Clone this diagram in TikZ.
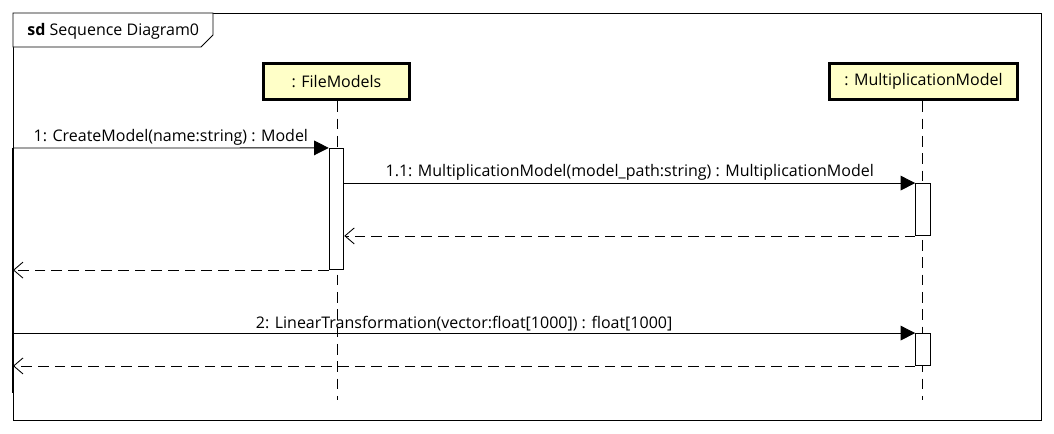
\documentclass[tikz,border=0pt]{standalone}
\usepackage{fontspec}
\setmainfont{Open Sans}
\usetikzlibrary{arrows.meta}
\definecolor{headfill}{RGB}{255,255,200}

\begin{document}
\begin{tikzpicture}[x=0.75pt,y=-0.75pt,line width=0.65pt,
	every node/.style={font=\fontsize{12}{14}\selectfont},
	head/.style={draw=black,fill=headfill,line width=2.2pt,minimum height=27.5pt,inner sep=0pt},
	act/.style={draw=black,fill=white,line width=0.65pt,minimum width=11pt,inner sep=0pt},
	lifeline/.style={black,line width=0.6pt,dash pattern=on 8pt off 5pt},
	call/.style={black,-{Triangle[length=11pt,width=11pt]}},
	reply/.style={black,dash pattern=on 8pt off 4.5pt,-{Straight Barb[length=7pt,width=12pt]}},
	lbl/.style={above,inner sep=1.5pt}]
				\useasboundingbox (0,0) rectangle (1054,433);
				% frame
				\draw [black] (13,13) rectangle (1041,420);
				\draw [black,fill=white] (13,13) -- (213,13) -- (213,35) -- (201,47) -- (13,47) -- cycle;
				\node [anchor=west,inner sep=0pt] (title) at (27,31) {\textbf{sd} Sequence Diagram0};
				% lifelines
				\node [head,minimum width=110pt] (fm) at (336.5,81.5) {: FileModels};
				\node [head,minimum width=141pt] (mm) at (923.5,81.5) {: MultiplicationModel};
				\coordinate (fmend) at (337,400);
				\coordinate (mmend) at (922,400);
				\draw [lifeline] (fm.south -| fmend) -- (fmend);
				\draw [lifeline] (mm.south -| mmend) -- (mmend);
				% caller
				\coordinate (top) at (13,148);
				\coordinate (bottom) at (13,393);
				\draw [black,line width=1.6pt] (top) -- (bottom);
				% activations
				\node [act,minimum height=91pt] (a1) at (336.5,209) {};
				\node [act,minimum height=39pt] (a2) at (923,209.5) {};
				\node [act,minimum height=24pt] (a3) at (923,349.5) {};
				% messages
				\draw [call] (top) -- node [lbl] (m1) {1: CreateModel(name:string) : Model} (a1.north west);
				\draw [call] (a1.east |- a2.north) -- node [lbl] (m11) {1.1: MultiplicationModel(model\_path:string) : MultiplicationModel} (a2.north west);
				\draw [reply] (a2.south west) -- (a1.east |- a2.south);
				\draw [reply] (a1.south west) -- (top |- a1.south);
				\draw [call] (top |- a3.north) -- node [lbl] (m2) {2: LinearTransformation(vector:float[1000]) : float[1000]} (a3.north west);
				\draw [reply] (a3.south west) -- (top |- a3.south);
			\end{tikzpicture}
\end{document}
